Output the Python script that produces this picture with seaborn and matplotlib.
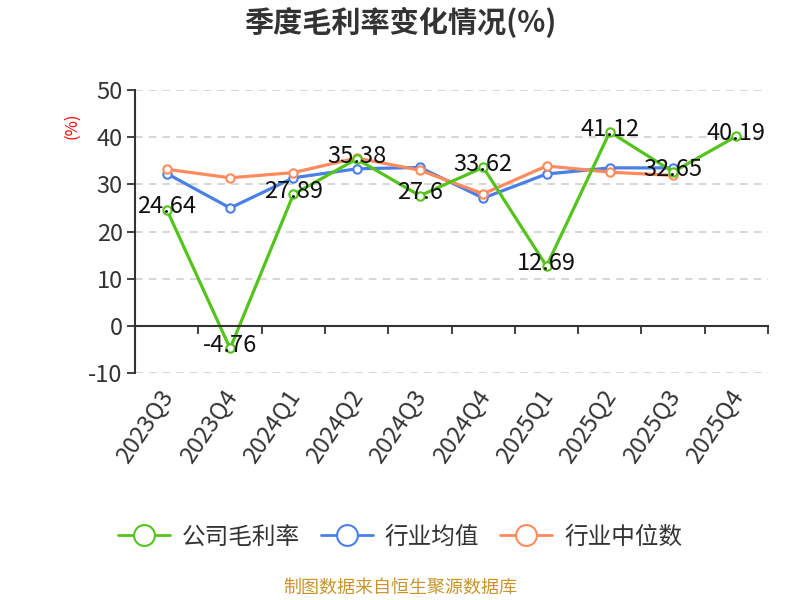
import matplotlib
matplotlib.use("Agg")
import matplotlib.pyplot as plt
import matplotlib.transforms as mtransforms
import seaborn as sns
import numpy as np
from matplotlib.ticker import FixedLocator, NullFormatter

quarters = ["2023Q3", "2023Q4", "2024Q1", "2024Q2", "2024Q3",
            "2024Q4", "2025Q1", "2025Q2", "2025Q3", "2025Q4"]
company = [24.64, -4.76, 27.89, 35.38, 27.6, 33.62, 12.69, 41.12, 32.65, 40.19]
industry_mean = [32.3, 25.0, 31.4, 33.3, 33.6, 27.1, 32.2, 33.5, 33.5, np.nan]
industry_median = [33.2, 31.4, 32.5, 35.6, 33.0, 28.0, 33.9, 32.6, 31.9, np.nan]

series_names = ["公司毛利率", "行业均值", "行业中位数"]
colors = ["#52c41a", "#4a7fe8", "#ff8a5b"]

sns.set_style("white")
plt.rcParams["font.family"] = ["Noto Sans CJK SC", "DejaVu Sans"]
plt.rcParams["axes.unicode_minus"] = False

fig = plt.figure(figsize=(8, 6), dpi=100)
ax = fig.add_axes([0.169, 0.378, 0.791, 0.472])

x = np.arange(len(quarters))
# draw the industry lines first so the company line sits on top
for vals, i in [(industry_mean, 1), (industry_median, 2), (company, 0)]:
    sns.lineplot(x=x, y=vals, ax=ax, color=colors[i], linewidth=2.3,
                 marker="o", markersize=6, markerfacecolor="white",
                 markeredgecolor=colors[i], markeredgewidth=1.5,
                 label=series_names[i], sort=False)

for xi, v in zip(x, company):
    ax.annotate(f"{v:g}", (xi, v), xytext=(0, 2), textcoords="offset points",
                ha="center", va="center", fontsize=17, color="#111111")

ax.set_xlim(-0.5, len(quarters) - 0.5)
ax.set_ylim(-10, 50)
ax.set_yticks(np.arange(-10, 51, 10))
ax.yaxis.grid(True, linestyle=(0, (5, 4)), color="#cccccc", linewidth=1.1)
ax.set_axisbelow(True)

for s in ["top", "right"]:
    ax.spines[s].set_visible(False)
ax.spines["left"].set_color("#333333")
ax.spines["left"].set_linewidth(1.5)
ax.spines["bottom"].set_position(("data", 0))
ax.spines["bottom"].set_color("#333333")
ax.spines["bottom"].set_linewidth(1.5)

ax.xaxis.set_major_locator(FixedLocator(np.arange(-0.5, len(quarters), 1.0)))
ax.xaxis.set_major_formatter(NullFormatter())
ax.tick_params(axis="x", bottom=True, direction="out", length=6, width=1.3,
               color="#333333")
ax.tick_params(axis="y", left=True, direction="out", length=6, width=1.3,
               color="#333333", labelsize=17, labelcolor="#333333", pad=3)

sec = ax.secondary_xaxis("bottom")
sec.set_xticks(x)
sec.set_xticklabels(quarters, rotation=56, ha="right", rotation_mode="anchor",
                    fontsize=17, color="#333333")
sec.tick_params(length=0, pad=9)
sec.spines["bottom"].set_visible(False)
shift = mtransforms.ScaledTranslation(-8 / 100, 0, fig.dpi_scale_trans)
for lbl in sec.get_xticklabels():
    lbl.set_transform(lbl.get_transform() + shift)

ax.set_xlabel("")
ax.set_ylabel("")
ax.get_legend().remove()

fig.text(0.09, 0.79, "(%)", color="red", rotation=90, fontsize=12,
         ha="center", va="center")
fig.text(0.5, 0.962, "季度毛利率变化情况(%)", fontsize=21, fontweight="bold",
         color="#333333", ha="center", va="center")

leg_handles = [plt.Line2D([], [], color=colors[i], linewidth=2, marker="o",
                          markersize=15, markerfacecolor="white",
                          markeredgecolor=colors[i], markeredgewidth=1.5)
               for i in range(3)]
fig.legend(leg_handles, series_names, loc="center", bbox_to_anchor=(0.5, 0.105),
           ncol=3, frameon=False, fontsize=17, handlelength=2.2,
           columnspacing=0.9, handletextpad=0.5, labelcolor="#333333")

fig.text(0.5, 0.02, "制图数据来自恒生聚源数据库", color="#c9952b", fontsize=13,
         ha="center", va="center")

fig.savefig("out.png", dpi=100)
